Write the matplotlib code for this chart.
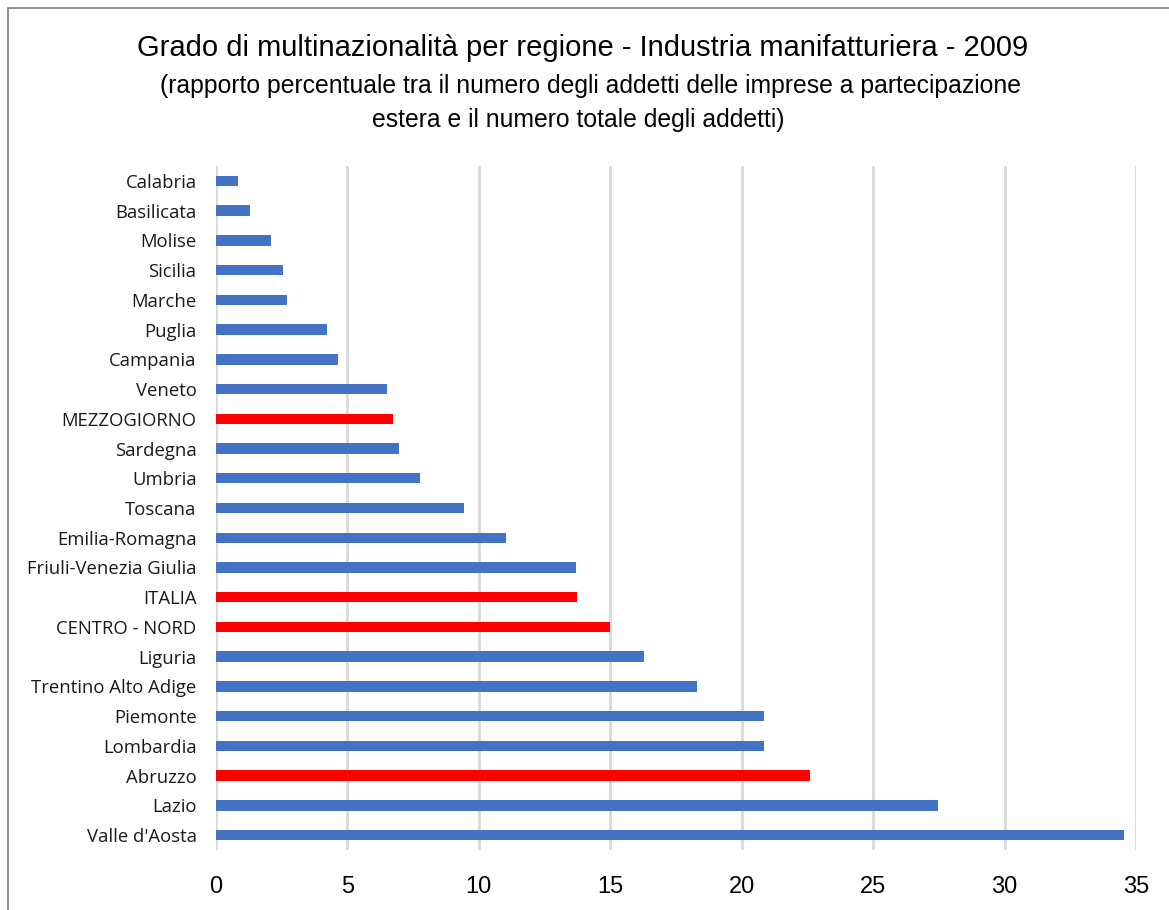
import matplotlib.pyplot as plt
from matplotlib.patches import Rectangle

# values, top to bottom
regions = ["Calabria", "Basilicata", "Molise", "Sicilia", "Marche", "Puglia",
           "Campania", "Veneto", "MEZZOGIORNO", "Sardegna", "Umbria", "Toscana",
           "Emilia-Romagna", "Friuli-Venezia Giulia", "ITALIA", "CENTRO - NORD",
           "Liguria", "Trentino Alto Adige", "Piemonte", "Lombardia", "Abruzzo",
           "Lazio", "Valle d'Aosta"]
values = [0.85, 1.31, 2.08, 2.56, 2.71, 4.23, 4.64, 6.51, 6.73, 6.97, 7.76, 9.44,
          11.04, 13.69, 13.72, 15.0, 16.3, 18.3, 20.85, 20.85, 22.58, 27.46, 34.54]
highlight = ["MEZZOGIORNO", "ITALIA", "CENTRO - NORD", "Abruzzo"]
xticks = [0, 5, 10, 15, 20, 25, 30, 35]

colors = ['#FF0000' if r in highlight else '#4472C4' for r in regions]

fig = plt.figure(figsize=(11.69, 9.10), dpi=100)
ax = fig.add_axes([216 / 1169, 1 - 850 / 910, (1136 - 216) / 1169, (850 - 166) / 910])

ypos = list(range(len(regions)))
ax.barh(ypos, values, height=0.35, color=colors, zorder=3)
ax.set_ylim(len(regions) - 0.5, -0.5)
ax.set_xlim(0, 35)

ax.set_yticks(ypos)
ax.set_yticklabels(regions, fontsize=13.3, family=['Open Sans', 'DejaVu Sans'], color='#1a1a1a')
ax.set_xticks(xticks)
ax.set_xticklabels([str(t) for t in xticks], fontsize=17, family='Liberation Sans', color='black')
ax.tick_params(axis='y', length=0, pad=14)
ax.tick_params(axis='x', length=0, pad=19)

ax.grid(axis='x', color='#d9d9d9', linewidth=2, zorder=0)
for s in ax.spines.values():
    s.set_visible(False)

fig.text(583 / 1169, 1 - 48 / 910, "Grado di multinazionalità per regione - Industria manifatturiera - 2009",
         ha='center', va='center', fontsize=21, family='Liberation Sans')
fig.text(591 / 1169, 1 - 86 / 910, "(rapporto percentuale tra il numero degli addetti delle imprese a partecipazione",
         ha='center', va='center', fontsize=17.8, family='Liberation Sans')
fig.text(578 / 1169, 1 - 120 / 910, "estera e il numero totale degli addetti)",
         ha='center', va='center', fontsize=17.8, family='Liberation Sans')

# chart frame
fig.patches.append(Rectangle((8 / 1169, -0.01), 1.2, 1 - 8 / 910 + 0.01, transform=fig.transFigure,
                             fill=False, edgecolor='#7f7f7f', linewidth=1.2))

fig.savefig("out.png", dpi=100)
